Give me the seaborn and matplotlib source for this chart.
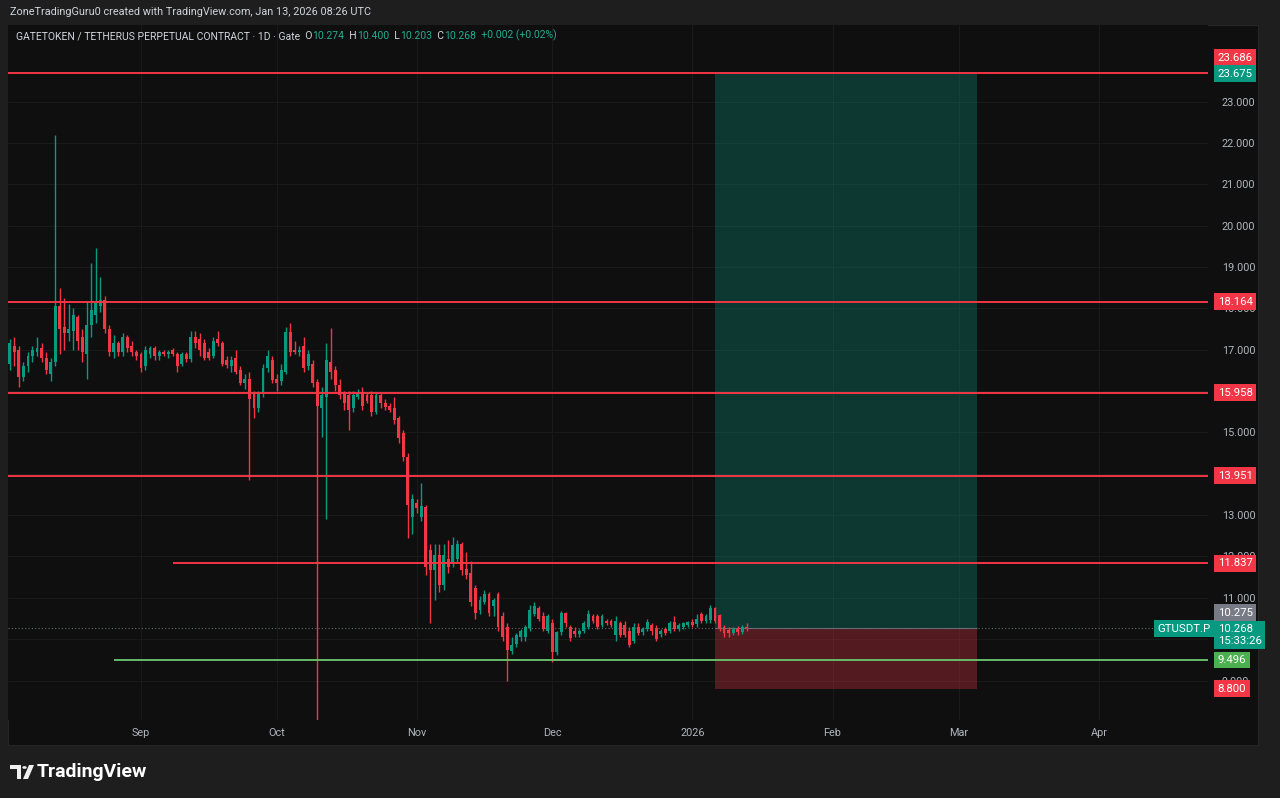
import matplotlib
matplotlib.use('Agg')
import matplotlib.pyplot as plt
import matplotlib.dates as mdates
from matplotlib.patches import Rectangle, Polygon, Circle
from matplotlib import font_manager
import seaborn as sns
import numpy as np
import pandas as pd

# ---- data: GT/USDT perpetual, daily candles from 2025-08-03 ----
start_date = '2025-08-03'

opens = [
    # Aug
    16.65, 17.1, 17.0, 16.35, 16.6, 16.85, 16.95, 17.05, 16.8, 16.4, 16.7, 18.05, 17.55, 17.4, 17.45,
    17.8, 17.3, 16.9, 17.6, 17.85, 18.05, 18.2, 17.5, 16.95, 17.15, 16.95, 17.3, 17.1, 16.95,
    # Sep
    16.9, 16.6, 16.9, 17.05, 16.85, 16.95, 16.9, 16.98, 16.9, 16.65, 16.9, 16.78, 17.3, 17.25, 17.15,
    16.95, 16.85, 17.25, 17.15, 16.75, 16.6, 16.8, 16.5, 16.2, 16.3, 15.95, 15.6, 15.96, 16.55, 16.75,
    # Oct
    16.3, 16.25, 16.45, 17.42, 17.0, 16.95, 17.1, 16.6, 16.65, 16.22, 15.6, 15.85, 16.7, 16.5, 16.14,
    15.96, 15.9, 15.6, 15.85, 15.95, 15.9, 15.9, 15.5, 15.9, 15.72, 15.65, 15.6, 15.35, 14.98, 14.4, 12.95,
    # Nov
    13.3, 12.95, 13.2, 12.15, 11.67, 12.04, 11.3, 11.95, 11.83, 11.95, 12.3, 11.7, 11.6, 11.24, 10.7,
    10.9, 11.1, 10.8, 11.1, 10.55, 10.3, 9.72, 9.88, 10.05, 10.05, 10.27, 10.62, 10.75, 10.55, 10.2,
    # Dec
    10.39, 9.69, 10.17, 10.63, 10.3, 10.2, 10.12, 10.2, 10.3, 10.55, 10.55, 10.35, 10.45, 10.45, 10.1,
    10.4, 10.35, 10.2, 9.95, 10.3, 10.18, 10.25, 10.35, 10.27, 10.12, 10.25, 10.2, 10.42, 10.25, 10.3, 10.35,
    # Jan
    10.42, 10.37, 10.6, 10.45, 10.47, 10.75, 10.58, 10.3, 10.22, 10.15, 10.25, 10.18, 10.274,
]
highs = [
    17.25, 17.3, 17.1, 16.7, 16.95, 17.1, 17.3, 17.15, 16.95, 16.8, 22.2, 18.5, 18.25, 18.1, 18.0,
    17.85, 17.5, 18.15, 19.1, 19.45, 18.75, 18.3, 17.6, 17.35, 17.2, 17.4, 17.35, 17.2, 17.0,
    16.95, 17.1, 17.1, 17.1, 17.0, 17.0, 17.0, 17.05, 16.95, 16.95, 16.95, 17.45, 17.45, 17.4, 17.25,
    17.05, 17.3, 17.45, 17.2, 16.85, 16.85, 17.0, 16.6, 16.4, 16.45, 16.0, 16.0, 16.65, 17.0, 16.85,
    16.4, 16.65, 17.55, 17.64, 17.2, 17.1, 17.3, 17.0, 16.75, 16.3, 16.1, 17.15, 17.52, 16.6, 16.3,
    16.0, 16.0, 16.0, 16.05, 16.1, 15.95, 16.0, 15.95, 15.95, 15.8, 15.7, 15.85, 15.4, 15.05, 14.5, 13.5,
    13.4, 13.78, 13.25, 12.3, 12.3, 12.3, 12.3, 12.4, 12.47, 12.4, 12.35, 12.1, 11.9, 11.3, 11.05,
    11.2, 11.15, 11.0, 11.15, 10.65, 10.4, 10.05, 10.15, 10.25, 10.35, 10.82, 10.9, 10.8, 10.65, 10.62,
    10.5, 10.2, 10.68, 10.65, 10.35, 10.3, 10.25, 10.45, 10.7, 10.6, 10.6, 10.6, 10.5, 10.5, 10.55,
    10.45, 10.45, 10.3, 10.4, 10.4, 10.3, 10.5, 10.4, 10.35, 10.25, 10.3, 10.45, 10.55, 10.4, 10.42, 10.45,
    10.48, 10.6, 10.65, 10.6, 10.82, 10.78, 10.6, 10.35, 10.3, 10.3, 10.32, 10.35, 10.4,
]
lows = [
    16.5, 16.6, 16.1, 16.25, 16.45, 16.7, 16.85, 16.7, 16.4, 16.25, 16.6, 16.9, 17.0, 17.2, 17.0,
    17.0, 16.7, 16.3, 17.3, 17.65, 17.9, 17.4, 16.85, 16.8, 16.85, 16.85, 16.95, 16.85, 16.75,
    16.45, 16.5, 16.8, 16.75, 16.75, 16.85, 16.8, 16.85, 16.45, 16.6, 16.7, 16.7, 17.05, 16.85, 16.75,
    16.75, 16.8, 17.1, 16.6, 16.55, 16.45, 16.4, 16.15, 16.05, 13.85, 15.35, 15.5, 15.85, 16.45, 16.2,
    16.0, 16.15, 16.4, 16.85, 16.9, 16.85, 16.45, 16.5, 16.1, 8.05, 14.9, 12.9, 16.3, 16.0, 15.8,
    15.55, 15.06, 15.5, 15.8, 15.55, 15.7, 15.4, 15.45, 15.6, 15.55, 15.5, 15.2, 14.75, 14.3, 12.45, 12.55,
    13.05, 12.85, 11.55, 10.4, 10.95, 11.15, 11.2, 11.6, 11.75, 11.85, 11.55, 11.45, 10.8, 10.5, 10.6,
    10.85, 10.55, 10.55, 10.2, 9.95, 9.0, 9.65, 9.8, 9.95, 9.95, 10.2, 10.55, 10.45, 10.2, 10.15,
    9.45, 9.62, 10.1, 10.3, 9.95, 10.05, 10.05, 10.15, 10.25, 10.4, 10.25, 10.3, 10.35, 10.3, 9.95,
    10.05, 10.05, 9.8, 9.9, 10.1, 10.1, 10.2, 10.1, 9.95, 10.05, 10.1, 10.15, 10.2, 10.2, 10.25, 10.3,
    10.3, 10.3, 10.4, 10.4, 10.4, 10.4, 10.2, 10.05, 10.05, 10.1, 10.1, 10.12, 10.203,
]
closes = [
    17.15, 16.95, 16.35, 16.6, 16.85, 17.0, 17.05, 16.8, 16.5, 16.7, 18.05, 17.5, 17.4, 17.5, 17.85,
    17.2, 16.95, 17.6, 17.95, 18.15, 18.2, 17.5, 16.95, 17.15, 16.95, 17.3, 17.05, 16.95, 16.85,
    16.55, 17.0, 17.05, 16.85, 16.95, 16.9, 16.95, 16.9, 16.6, 16.9, 16.78, 17.3, 17.15, 17.0, 16.8,
    16.8, 17.2, 17.15, 16.65, 16.62, 16.75, 16.45, 16.2, 16.3, 15.8, 15.6, 15.95, 16.55, 16.85, 16.27,
    16.2, 16.5, 17.42, 16.94, 16.95, 17.0, 16.55, 16.9, 16.2, 15.65, 15.9, 16.75, 16.45, 16.14, 15.9,
    15.7, 15.54, 15.9, 15.95, 15.65, 15.75, 15.5, 15.9, 15.7, 15.62, 15.55, 15.3, 14.86, 14.4, 13.24, 13.4,
    13.16, 13.22, 11.74, 11.67, 12.04, 11.3, 12.04, 11.75, 12.28, 12.3, 11.67, 11.55, 10.9, 10.63, 10.95,
    11.1, 10.63, 10.95, 10.3, 10.05, 9.74, 9.85, 10.1, 10.2, 10.3, 10.7, 10.8, 10.5, 10.25, 10.55,
    9.69, 10.17, 10.63, 10.4, 10.03, 10.12, 10.2, 10.4, 10.6, 10.45, 10.3, 10.55, 10.4, 10.35, 10.45,
    10.1, 10.1, 9.86, 10.3, 10.15, 10.25, 10.42, 10.2, 10.0, 10.2, 10.15, 10.38, 10.25, 10.35, 10.4, 10.42,
    10.35, 10.5, 10.45, 10.55, 10.76, 10.45, 10.27, 10.15, 10.15, 10.25, 10.18, 10.3, 10.268,
]

# horizontal levels
red_levels = [23.686, 18.164, 15.958, 13.951, 11.837]
red_level_starts = [None, None, None, None, '2025-09-08']
green_level = 9.496
green_level_start = '2025-08-26'

# long position tool
pos_start, pos_end = '2026-01-06', '2026-03-05'
pos_entry, pos_target, pos_stop = 10.275, 23.675, 8.800

month_ticks = ['2025-09-01', '2025-10-01', '2025-11-01', '2025-12-01',
               '2026-01-01', '2026-02-01', '2026-03-01', '2026-04-01']
month_labels = ['Sep', 'Oct', 'Nov', 'Dec', '2026', 'Feb', 'Mar', 'Apr']
price_ticks = [9, 10, 11, 12, 13, 14, 15, 16, 17, 18, 19, 20, 21, 22, 23]
# ticks whose label sits fully behind a price tag on the scale
hidden_ticks = [10, 14, 16]

# ---- style ----
W, H = 1280, 798
UP, DOWN = '#089981', '#f23645'
BG_OUT, BG_PANE = '#1e1e1e', '#0f0f0f'
TXT = '#d1d4dc'

sns.set_theme(style='dark', rc={
    'axes.facecolor': BG_PANE,
    'figure.facecolor': BG_OUT,
    'axes.edgecolor': BG_PANE,
    'grid.color': '#1a1a1a',
    'grid.linewidth': 0.8,
})
installed = {f.name for f in font_manager.fontManager.ttflist}
main_font = 'Liberation Sans Narrow' if 'Liberation Sans Narrow' in installed else 'Roboto'
plt.rcParams['font.family'] = [main_font, 'DejaVu Sans']


def fx(px):
    return px / W


def fy(py):
    return 1 - py / H


fig = plt.figure(figsize=(W / 100, H / 100), dpi=100)
fig.add_artist(Rectangle((fx(8), fy(745)), fx(1250), 720 / H, transform=fig.transFigure,
                         facecolor=BG_PANE, edgecolor='#262626', lw=0.8, zorder=0))
ax = fig.add_axes([fx(8), fy(720), fx(1200), 695 / H])

df = pd.DataFrame({'date': pd.date_range(start_date, periods=len(closes), freq='D'),
                   'open': opens, 'high': highs, 'low': lows, 'close': closes})
df['x'] = mdates.date2num(df['date'])
df['color'] = np.where(df['close'] >= df['open'], UP, DOWN)
x0 = df['x'].iloc[0]

ax.set_xlim(x0 - 0.42, x0 + 265.07)
ax.set_ylim(8.046, 24.85)
xmin = ax.get_xlim()[0]
xmax = ax.get_xlim()[1]

# position box
ps, pe = mdates.date2num(pd.Timestamp(pos_start)), mdates.date2num(pd.Timestamp(pos_end))
ax.add_patch(Rectangle((ps, pos_entry), pe - ps, pos_target - pos_entry,
                       facecolor=UP, alpha=0.3, edgecolor='none', zorder=1))
ax.add_patch(Rectangle((ps, pos_stop), pe - ps, pos_entry - pos_stop,
                       facecolor=DOWN, alpha=0.3, edgecolor='none', zorder=1))
ax.hlines(pos_entry, ps, pe, color='#6a6d75', lw=0.8, zorder=1.5)

# candles
ax.vlines(df['x'], df['low'], df['high'], colors=df['color'], lw=1.0, zorder=3)
body = (df['close'] - df['open']).abs().clip(lower=0.02)
ax.bar(df['x'], body, bottom=df[['open', 'close']].min(axis=1), width=0.64,
       color=df['color'], edgecolor='none', zorder=3)

# current price dotted line
last_close = closes[-1]
ax.axhline(last_close, color='#5d6b68', lw=0.8, ls=(0, (1, 2)), zorder=2)

# horizontal levels
for lvl, st in zip(red_levels, red_level_starts):
    x_from = xmin if st is None else mdates.date2num(pd.Timestamp(st))
    ax.hlines(lvl, x_from, xmax, color=DOWN, lw=1.4, zorder=4)
ax.hlines(green_level, mdates.date2num(pd.Timestamp(green_level_start)), xmax,
          color='#66bb6a', lw=1.4, zorder=4)

# axes ticks
ax.yaxis.tick_right()
ax.set_yticks(price_ticks)
ax.set_yticklabels(['' if v in hidden_ticks else f'{v:.3f}' for v in price_ticks])
ax.set_xticks(mdates.date2num(pd.to_datetime(month_ticks)))
ax.set_xticklabels(month_labels)
ax.tick_params(axis='y', length=0, pad=10, labelcolor='#b2b5be', labelsize=7.8)
ax.tick_params(axis='x', length=0, pad=6, labelcolor='#b2b5be', labelsize=7.8)
ax.grid(True, zorder=0)
for s in ax.spines.values():
    s.set_visible(False)
ax.set_xlabel('')
ax.set_ylabel('')


def price_label(val, text, fc, dy=0.0, dx=7.0, ha='left', va='center', tc='white', size=8.2):
    ax.annotate(text, xy=(1, val), xycoords=('axes fraction', 'data'),
                xytext=(dx, dy), textcoords='offset points', ha=ha, va=va,
                color=tc, fontsize=size, zorder=10, annotation_clip=False,
                bbox=dict(boxstyle='square,pad=0.3', fc=fc, ec='none'))


price_label(23.686, '23.686', DOWN, dy=11)
price_label(pos_target, '23.675', UP)
for lvl in red_levels[1:]:
    price_label(lvl, f'{lvl:.3f}', DOWN)
price_label(pos_entry, '10.275', '#787b86', dy=11)
price_label(last_close, '10.268\n15:33:26', UP, dy=3.0, va='top')
price_label(last_close, 'GTUSDT.P', UP, dx=2.0, ha='right', dy=-0.5)
price_label(green_level, f'{green_level:.3f}', '#4caf50')
price_label(pos_stop, f'{pos_stop:.3f}', DOWN)

# header
fig.text(fx(10), fy(12), 'ZoneTradingGuru0 created with TradingView.com, Jan 13, 2026 08:26 UTC',
         color=TXT, fontsize=7.8, va='center', ha='left')
teal = '#22ab94'
segments = [('GATETOKEN / TETHERUS PERPETUAL CONTRACT · 1D · Gate', TXT), ('  O', TXT), ('10.274', teal),
            ('  H', TXT), ('10.400', teal), ('  L', TXT), ('10.203', teal), ('  C', TXT),
            ('10.268', teal), ('  +0.002 (+0.02%)', teal)]
prev = ax.annotate(segments[0][0], xy=(fx(16), fy(36)), xycoords='figure fraction',
                   color=segments[0][1], fontsize=7.5, va='center', ha='left',
                   zorder=10, annotation_clip=False)
for txt, col in segments[1:]:
    prev = ax.annotate(txt, xy=(1, 0), xycoords=prev, color=col, fontsize=7.5,
                       va='bottom', ha='left', zorder=10, annotation_clip=False)

# TradingView logo
fig.text(fx(37), fy(772), 'TradingView', color='white', fontsize=14, fontweight='bold',
         va='center', ha='left')
logo = '#f0f0f0'
fig.add_artist(Polygon([(fx(10), fy(765)), (fx(21), fy(765)), (fx(21), fy(779)), (fx(17), fy(779)),
                        (fx(17), fy(769)), (fx(10), fy(769))], closed=True,
                       transform=fig.transFigure, fc=logo, ec='none'))
fig.add_artist(Circle((fx(24.5), fy(767.5)), 2.2 / W, transform=fig.transFigure, fc=logo, ec='none'))
fig.add_artist(Polygon([(fx(29), fy(765)), (fx(34), fy(765)), (fx(28), fy(779)), (fx(23), fy(779))],
                       closed=True, transform=fig.transFigure, fc=logo, ec='none'))

fig.savefig('out.png', dpi=100, facecolor=BG_OUT)
